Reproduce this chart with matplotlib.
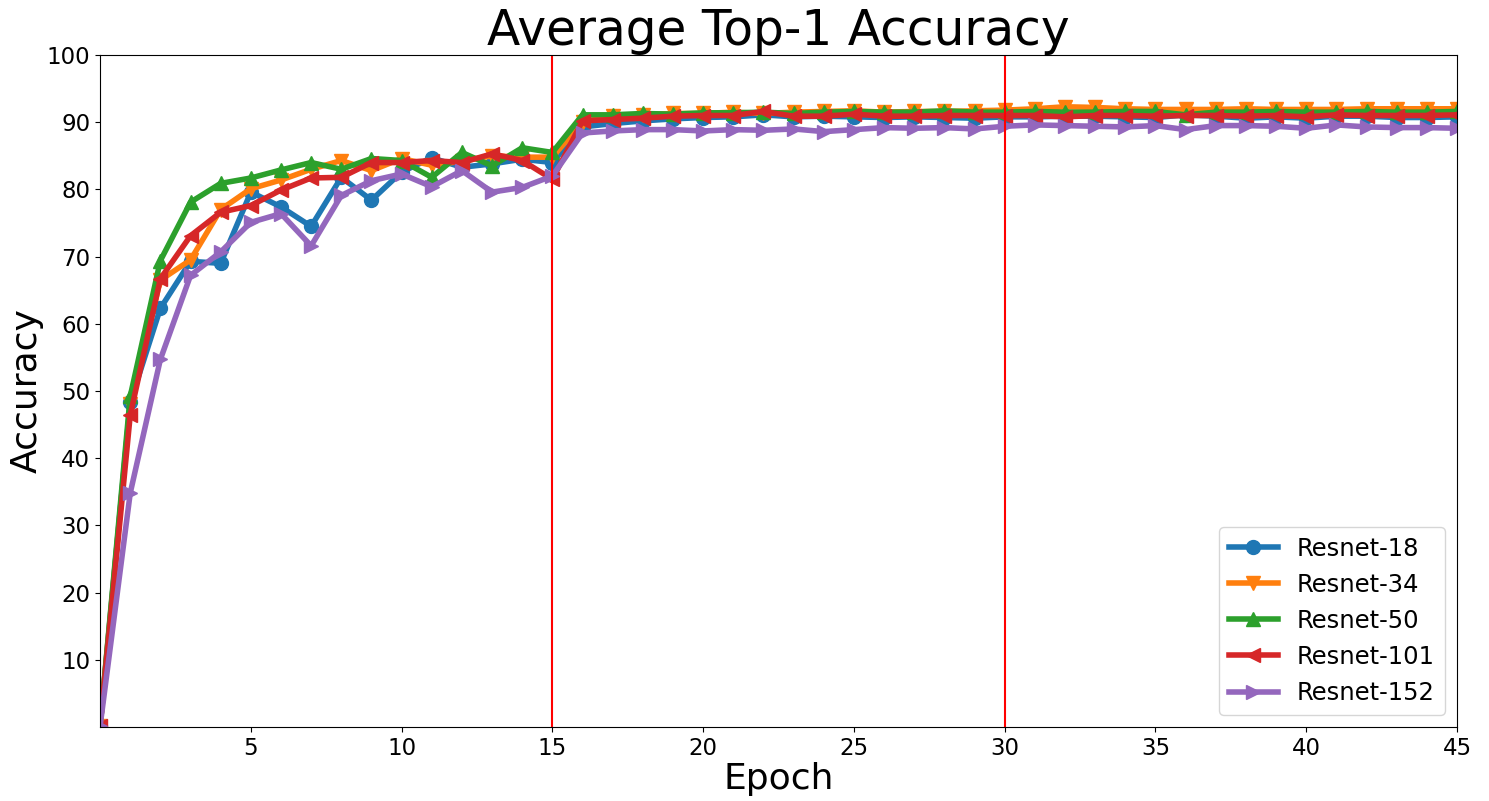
import numpy as np
import matplotlib
matplotlib.use('Agg')
import matplotlib.pyplot as plt

epochs = np.arange(0, 46)

# Resnet-18
resnet18 = [0.1, 48.3, 62.3, 69.3, 69.0, 79.6, 77.4, 74.5, 81.8, 78.4,
            82.6, 84.7, 83.3, 83.8, 84.5, 84.0, 89.3, 89.8, 90.2, 90.5,
            90.7, 90.8, 91.1, 90.8, 90.9, 90.8, 90.7, 90.8, 90.7, 90.6,
            90.8, 90.8, 90.9, 90.9, 90.8, 90.7, 91.1, 90.9, 90.6, 90.8,
            90.6, 90.9, 90.9, 90.7, 90.7, 90.8]
# Resnet-34
resnet34 = [0.1, 48.0, 66.5, 69.5, 77.0, 80.1, 81.4, 83.0, 84.3, 82.8,
            84.6, 83.6, 84.2, 85.0, 84.8, 84.8, 90.0, 91.0, 91.1, 91.3,
            91.3, 91.5, 91.3, 91.5, 91.6, 91.7, 91.5, 91.6, 91.6, 91.7,
            91.8, 92.0, 92.3, 92.2, 92.0, 91.9, 91.9, 91.9, 92.0, 91.9,
            91.9, 91.9, 92.0, 92.0, 92.0, 92.0]
# Resnet-50
resnet50 = [0.1, 49.2, 69.4, 78.1, 80.9, 81.7, 82.9, 84.0, 83.0, 84.6,
            84.3, 81.8, 85.5, 83.5, 86.2, 85.5, 91.1, 91.1, 91.3, 91.2,
            91.4, 91.4, 91.5, 91.3, 91.5, 91.6, 91.5, 91.5, 91.7, 91.5,
            91.5, 91.6, 91.5, 91.5, 91.6, 91.6, 91.1, 91.5, 91.5, 91.6,
            91.5, 91.5, 91.6, 91.5, 91.5, 91.6]
# Resnet-101
resnet101 = [0.1, 46.4, 66.7, 73.1, 76.6, 77.6, 79.9, 81.7, 81.8, 84.0,
             84.0, 84.3, 84.0, 85.3, 84.3, 81.5, 90.2, 90.4, 90.6, 90.9,
             91.0, 91.0, 91.6, 90.9, 90.9, 91.2, 90.9, 90.9, 91.0, 91.0,
             91.0, 91.0, 90.8, 91.0, 91.0, 90.9, 91.0, 91.0, 90.9, 91.0,
             90.8, 91.1, 91.0, 91.0, 91.0, 91.1]
# Resnet-152
resnet152 = [0.1, 34.8, 54.7, 67.2, 70.7, 75.1, 76.4, 71.6, 79.1, 81.3,
             82.3, 80.4, 82.8, 79.6, 80.3, 82.0, 88.4, 88.7, 88.9, 88.9,
             88.7, 88.9, 88.8, 89.0, 88.6, 88.9, 89.2, 89.1, 89.2, 89.0,
             89.4, 89.6, 89.5, 89.4, 89.3, 89.5, 88.9, 89.5, 89.5, 89.4,
             89.1, 89.6, 89.3, 89.2, 89.2, 89.1]

series = [('Resnet-18', resnet18, 'o'),
          ('Resnet-34', resnet34, 'v'),
          ('Resnet-50', resnet50, '^'),
          ('Resnet-101', resnet101, '<'),
          ('Resnet-152', resnet152, '>')]

fig = plt.figure(figsize=(14.89, 8.01), dpi=100)
ax = fig.add_axes([0.0672, 0.0924, 0.9113, 0.8389])

for name, acc, mk in series:
    ax.plot(epochs, acc, marker=mk, markersize=10, linewidth=4, label=name)

# lr decay points
ax.axvline(15, color='red', linewidth=1.5)
ax.axvline(30, color='red', linewidth=1.5)

ax.set_xlim(0, 45)
ax.set_ylim(0, 100)
ax.set_xticks(range(5, 46, 5))
ax.set_yticks(range(10, 101, 10))
ax.tick_params(labelsize=16.5)
ax.set_title('Average Top-1 Accuracy', fontsize=35)
ax.set_xlabel('Epoch', fontsize=26, labelpad=2)
ax.set_ylabel('Accuracy', fontsize=26, labelpad=2)
ax.legend(loc='lower right', fontsize=17.5)

plt.savefig('out.png')
